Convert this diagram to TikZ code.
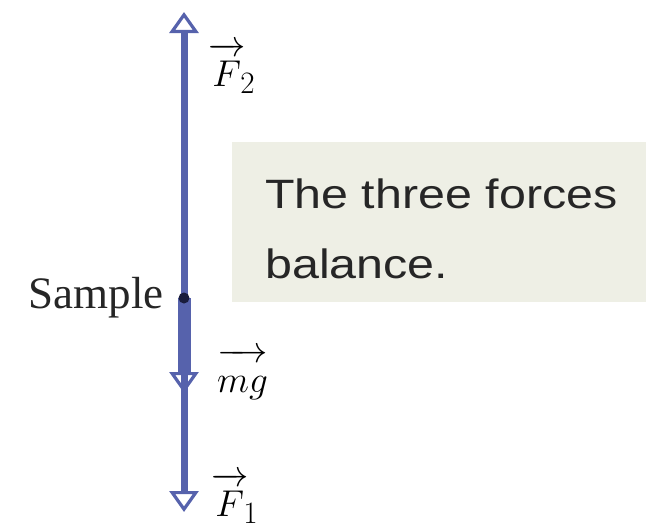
\documentclass[tikz,border=0pt]{standalone}
\usepackage{fontspec}
\usetikzlibrary{arrows.meta}
\newfontfamily\notefont[FakeStretch=1.18]{Liberation Sans}
\newfontfamily\labelfont{Liberation Serif}
\definecolor{forceblue}{RGB}{86,98,172}
\definecolor{notebg}{RGB}{238,239,229}
\definecolor{dotnavy}{RGB}{25,28,60}
\newcommand{\biglbl}[1]{\scalebox{1.5}{\Huge #1}}
\newcommand{\tallstrut}{\rule{0pt}{0.84em}}
\tikzset{
  forcetip/.tip={Triangle[open, length=21pt, width=29pt, line width=3.2pt]},
  force/.style={draw=forceblue, line width=7pt, -forcetip},
  weight/.style={force, line width=13pt},
  veclabel/.style={anchor=base west, inner sep=0pt},
}
\begin{document}
\begin{tikzpicture}[x=1pt, y=-1pt]
    \useasboundingbox (0,0) rectangle (646,528);

    % note box
    \fill[notebg] (232,142) rectangle (646,302);
    \node[anchor=north west, inner sep=0pt, align=left,
          font=\notefont\fontsize{41}{70}\selectfont, text=black!85]
        (note) at (265,178.6) {The three forces\\balance.};

    \coordinate (S) at (184,298);
    \coordinate (F2tip) at (184,12);
    \coordinate (F1tip) at (184,512);
    \coordinate (mgtip) at (184,393);

    \draw[force] (S) -- (F2tip);
    \draw[force] (S) -- (F1tip);
    \draw[weight] (S) -- (mgtip);
    \fill[dotnavy] (S) circle (5.5pt);

    \node[anchor=base east, inner sep=0pt, font=\labelfont\fontsize{45}{54}\selectfont,
          text=black!85] (samplelbl) at (164,308) {Sample};
    \node[veclabel] (F2lbl) at (208,86) {\biglbl{$\overrightarrow{\tallstrut F}_{\!2}$}};
    \node[veclabel] (mglbl) at (217,392) {\biglbl{$\overrightarrow{\tallstrut mg}$}};
    \node[veclabel] (F1lbl) at (211,516) {\biglbl{$\overrightarrow{\tallstrut F}_{\!1}$}};
\end{tikzpicture}
\end{document}
